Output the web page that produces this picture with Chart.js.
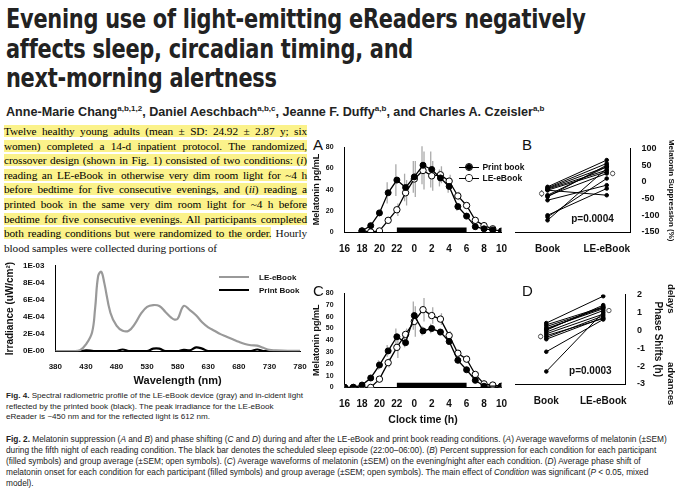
<!DOCTYPE html>
<html><head><meta charset="utf-8">
<script src="https://cdn.jsdelivr.net/npm/chart.js@4"></script>
<style>
body{margin:0;width:680px;height:497px;background:#fff;position:relative;overflow:hidden;font-family:"Liberation Sans",Arial,sans-serif;color:#111}
.abs{position:absolute}
#title{left:6px;top:4px;font-family:"DejaVu Sans Condensed","DejaVu Sans",sans-serif;font-weight:bold;font-size:27px;line-height:29.5px;color:#222;white-space:nowrap;transform:scaleX(0.86);transform-origin:left top;letter-spacing:-0.3px}
#auth{left:6px;top:104px;font-weight:bold;font-size:12.6px;color:#222;white-space:nowrap}
#auth sup{font-size:8px}
#abs{left:4px;top:124px;width:303px;font-family:"Liberation Serif",serif;font-size:11.3px;line-height:14.6px;text-align:justify;letter-spacing:-0.1px}
#abs mark{background:#fbf28a}
.cap{font-size:8.1px;line-height:10.5px;color:#222}
.lab{font-size:15px;font-family:"Liberation Sans",sans-serif}
.leg{font-size:8.5px;font-weight:bold;white-space:nowrap;line-height:11px}
.dot{display:inline-block;width:6px;height:6px;border:1px solid #000;border-radius:50%;vertical-align:-1px;position:relative}
.dot:before{content:"";position:absolute;left:-7px;top:2.5px;width:20px;height:1.3px;background:#000}
.dot i{position:absolute;left:0;top:0;width:6px;height:6px;border-radius:50%}
.sw{display:inline-block;width:30px;height:2px;vertical-align:2px;margin-right:10px}
</style></head><body>
<div id="title" class="abs">Evening use of light-emitting eReaders negatively<br>affects sleep, circadian timing, and<br>next-morning alertness</div>
<div id="auth" class="abs">Anne-Marie Chang<sup>a,b,1,2</sup>, Daniel Aeschbach<sup>a,b,c</sup>, Jeanne F. Duffy<sup>a,b</sup>, and Charles A. Czeisler<sup>a,b</sup></div>
<div id="abs" class="abs"><mark>Twelve healthy young adults (mean ± SD: 24.92 ± 2.87 y; six women) completed a 14-d inpatient protocol. The randomized, crossover design (shown in Fig. 1) consisted of two conditions: (<i>i</i>) reading an LE-eBook in otherwise very dim room light for ~4 h before bedtime for five consecutive evenings, and (<i>ii</i>) reading a printed book in the same very dim room light for ~4 h before bedtime for five consecutive evenings. All participants completed both reading conditions but were randomized to the order.</mark> Hourly blood samples were collected during portions of</div>

<div class="abs" style="left:0;top:258px;width:310px;height:130px"><canvas id="spec"></canvas></div>
<div class="abs leg" style="left:219px;top:271px;font-size:8px;line-height:13px"><span class="sw" style="background:#999"></span>LE-eBook<br><span class="sw" style="background:#000"></span>Print Book</div>
<div class="abs cap" style="left:6px;top:391px;width:300px"><b>Fig. 4.</b> Spectral radiometric profile of the LE-eBook device (gray) and in-cident light reflected by the printed book (black). The peak irradiance for the LE-eBook eReader is ~450 nm and for the reflected light is 612 nm.</div>

<div class="abs lab" style="left:313px;top:136px">A</div>
<div class="abs lab" style="left:522px;top:136px">B</div>
<div class="abs lab" style="left:313px;top:282px">C</div>
<div class="abs lab" style="left:522px;top:282px">D</div>
<div class="abs" style="left:310px;top:140px;width:200px;height:118px"><canvas id="cA"></canvas></div>
<div class="abs leg" style="left:465px;top:162px"><span class="dot"><i style="background:#000"></i></span>&nbsp;&nbsp;&nbsp;&nbsp;Print book<br><span class="dot"><i style="background:#fff"></i></span>&nbsp;&nbsp;&nbsp;&nbsp;LE-eBook</div>
<div class="abs" style="left:510px;top:140px;width:170px;height:118px"><canvas id="cB"></canvas></div>
<div class="abs" style="left:310px;top:286px;width:200px;height:140px"><canvas id="cC"></canvas></div>
<div class="abs" style="left:510px;top:286px;width:158px;height:124px"><canvas id="cD"></canvas></div>
<div class="abs" style="left:666px;top:284px;font-size:9.5px;font-weight:bold;writing-mode:vertical-rl">delays</div>
<div class="abs" style="left:666px;top:362px;font-size:9.5px;font-weight:bold;writing-mode:vertical-rl">advances</div>

<div class="abs cap" style="left:6px;top:434px;width:670px;font-size:8.3px;line-height:11px"><b>Fig. 2.</b> Melatonin suppression (<i>A</i> and <i>B</i>) and phase shifting (<i>C</i> and <i>D</i>) during and after the LE-eBook and print book reading conditions. (<i>A</i>) Average waveforms of melatonin (±SEM) during the fifth night of each reading condition. The black bar denotes the scheduled sleep episode (22:00–06:00). (<i>B</i>) Percent suppression for each condition for each participant (filled symbols) and group average (±SEM; open symbols). (<i>C</i>) Average waveforms of melatonin (±SEM) on the evening/night after each condition. (<i>D</i>) Average phase shift of melatonin onset for each condition for each participant (filled symbols) and group average (±SEM; open symbols). The main effect of <i>Condition</i> was significant (<i>P</i> &lt; 0.05, mixed model).</div>
<script>
// spectrum (Fig 4)
const wl = [380,390,400,410,420,430,440,445,450,455,460,470,480,490,500,510,520,530,540,550,560,570,575,580,590,600,610,620,630,640,650,660,670,680,690,700,710,720,730,740,760,780];
const leSpec = [0,0,0,0,0.1,0.8,2.2,5,8.8,9.3,8,4.5,3,2.4,2.4,3.2,4.4,5.2,5.4,5.3,4.6,3.9,3.7,3.8,5.3,4.8,4.2,3.4,2.8,2.4,2,1.7,1.4,1.1,0.85,0.7,0.65,0.4,0.15,0.1,0.05,0.05];
const printSpec = [0,0,0,0,0,0.1,0.05,0,0,0,0,0,0,0.2,0,0,0,0,0.3,0.3,0,0,0,0,0.15,0.1,0.45,0.3,0,0,0,0,0,0,0,0,0.2,0,0,0,0,0];
const specTicks = ['0E-00','2E-04','4E-04','6E-04','8E-04','1E-03'];

// melatonin waveforms, hours after midnight of day 0 (24 = 0:00)
const hrsA = [18,19,20,21,22,23,24,25,26,27,28,29,30,31,32,33,34];
const printA = [1,6,18,37,49,42,52,63,59,51,43,24,15,5,3,2,1];
const printAErr = [0,1,3,10,15,13,15,18,17,8,6,4,3,1,1,0,0];
const leA = [1,0,1,11,21,37,50,58,53,54,48,34,25,11,6,3,null];
const leAErr = [0,0,1,3,6,12,17,18,14,8,6,4,3,2,1,0,0];
const hrsC = [16,17,18,19,20,21,22,23,24,25,26,27,28,29,30,31,32,33,34];
const printC = [0,0,2,8,19,31,43,38,61,48,50,47,39,23,15,6,1,null,1];
const printCErr = [0,0,1,2,4,5,7,4,12,4,4,3,3,2,2,1,0,0,0];
const leC = [0,0,0,0,7,21,34,45,56,66,61,58,44,29,24,11,3,2,1];
const leCErr = [0,0,0,0,2,4,9,5,13,10,7,5,4,3,3,2,1,0,0];
const sleepBar = [22,30];

// individual participants
const supBook = [-15,-18,-20,-22,-25,-40,-45,-55,-100,-105,-115,-25,-42];
const supLE = [65,55,45,35,30,45,50,-10,-20,10,40,-40,25];
const supMean = [-35,25], supErr = [10,8];
const phBook = [0.4,0.3,0.1,0,-0.1,-0.2,-0.4,-0.5,-1.2,-2.3,0.2,-0.3,0.05];
const phLE = [1.9,1.3,1.2,1.4,1.1,0.9,0.8,0.7,0.6,1.0,1.25,0.65,1.3];
const phMean = [-0.35,1.1], phErr = [0.15,0.1];
const conds = ['Book','LE-eBook'];

Chart.defaults.font.family = 'Liberation Sans, Arial, sans-serif';
Chart.defaults.font.weight = 'bold';
Chart.defaults.color = '#111';
Chart.defaults.animation = false;

const errPlugin = {
  id: 'err',
  beforeDatasetsDraw(chart) {
    const c = chart.ctx, xs = chart.scales.x, ys = chart.scales.y;
    chart.data.datasets.forEach(ds => {
      if (!ds.err) return;
      c.save(); c.strokeStyle = ds.errColor || '#aaa'; c.lineWidth = 1.3;
      ds.data.forEach((p, i) => {
        if (p.y == null || !ds.err[i]) return;
        const x = xs.getPixelForValue(p.x) + (ds.errDx || 0);
        c.beginPath(); c.moveTo(x, ys.getPixelForValue(p.y - ds.err[i])); c.lineTo(x, ys.getPixelForValue(p.y + ds.err[i])); c.stroke();
      });
      c.restore();
    });
  }
};

function pts(xs, ys) { return xs.map((x, i) => ({x: x, y: ys[i]})); }

// spectrum
new Chart(document.getElementById('spec'), {
  type: 'line',
  data: {datasets: [
    {label: 'LE-eBook', data: pts(wl, leSpec), borderColor: '#999', borderWidth: 2.2, pointRadius: 0, tension: 0.4},
    {label: 'Print Book', data: pts(wl, printSpec), borderColor: '#000', borderWidth: 2.2, pointRadius: 0, tension: 0.4}
  ]},
  options: {responsive: true, maintainAspectRatio: false,
    layout: {padding: {right: 10, top: 6}},
    plugins: {legend: {display: false}, tooltip: {enabled: false}},
    scales: {
      x: {type: 'linear', min: 380, max: 780, grid: {display: false}, border: {color: '#000'},
        ticks: {stepSize: 50, font: {size: 8}}, title: {display: true, text: 'Wavelength (nm)', font: {size: 11}, padding: 0}},
      y: {min: 0, max: 10, grid: {display: false}, border: {color: '#000'},
        ticks: {stepSize: 2, font: {size: 8}, callback: v => specTicks[v / 2]},
        title: {display: true, text: 'Irradiance (uW/cm²)', font: {size: 10}}}
    }}
});

function waveChart(id, hrs, pr, prE, le, leE, showTitle) {
  new Chart(document.getElementById(id), {
    type: 'line',
    data: {datasets: [
      {label: 'Print book', data: pts(hrs, pr), err: prE, errDx: -1, borderColor: '#000', backgroundColor: '#000', borderWidth: 1.3, pointRadius: 3, pointBorderWidth: 1},
      {label: 'LE-eBook', data: pts(hrs, le), err: leE, errDx: 1, borderColor: '#000', backgroundColor: '#fff', borderWidth: 1.3, pointRadius: 3.2, pointBorderWidth: 1},
      {label: 'sleep', data: pts(sleepBar, [1.5, 1.5]), borderColor: '#000', borderWidth: 6, pointRadius: 0, borderCapStyle: 'butt'}
    ]},
    options: {responsive: true, maintainAspectRatio: false, spanGaps: true,
      layout: {padding: {top: 4, right: 4}},
      plugins: {legend: {display: false}, tooltip: {enabled: false}},
      scales: {
        x: {type: 'linear', min: 16, max: 34, grid: {display: false}, border: {color: '#000'},
          ticks: {stepSize: 2, font: {size: 10}, callback: v => v % 24}, title: {display: showTitle, text: 'Clock time (h)', font: {size: 10.5}, padding: 0}},
        y: {min: 0, max: 80, grid: {display: false}, border: {color: '#000'},
          ticks: {stepSize: 10, font: {size: 7}}, title: {display: true, text: 'Melatonin pg/mL', font: {size: 9}, padding: 1}}
      }},
    plugins: [errPlugin]
  });
}
waveChart('cA', hrsA, printA, printAErr, leA, leAErr, false);
waveChart('cC', hrsC, printC, printCErr, leC, leCErr, true);

function pairChart(id, book, le, mean, err, min, max, step, title, tsize, ptxt) {
  const ds = book.map((b, i) => ({data: [{x: 0, y: b}, {x: 1, y: le[i]}], borderColor: '#000', backgroundColor: '#000', borderWidth: 1, pointRadius: 1.8}));
  ds.push({data: [{x: -0.1, y: mean[0]}], err: [err[0]], errColor: '#555', showLine: false, borderColor: '#555', backgroundColor: '#fff', pointRadius: 2.2});
  ds.push({data: [{x: 1.1, y: mean[1]}], err: [err[1]], errColor: '#555', showLine: false, borderColor: '#555', backgroundColor: '#fff', pointRadius: 2.2});
  new Chart(document.getElementById(id), {
    type: 'line',
    data: {datasets: ds},
    options: {responsive: true, maintainAspectRatio: false,
      layout: {padding: {top: 4}},
      plugins: {legend: {display: false}, tooltip: {enabled: false}},
      scales: {
        x: {type: 'linear', min: -0.55, max: 1.4, grid: {display: false}, border: {color: '#000'},
          afterBuildTicks: s => { s.ticks = [{value: 0}, {value: 1}]; },
          ticks: {font: {size: 10}, callback: v => conds[v]}},
        y: {position: 'right', min: min, max: max, grid: {display: false}, border: {color: '#000'},
          ticks: {stepSize: step, font: {size: 9}}, title: {display: true, text: title, font: {size: tsize}}}
      }},
    plugins: [errPlugin, {id: 'ptxt', afterDraw(c) {
      const x = c.ctx; x.save(); x.font = 'bold 10px Liberation Sans'; x.fillStyle = '#111';
      x.fillText(ptxt, c.scales.x.getPixelForValue(0.4), c.chartArea.bottom - 10); x.restore(); }}]
  });
}
pairChart('cB', supBook, supLE, supMean, supErr, -150, 100, 50, 'Melatonin Suppression (%)', 8, 'p=0.0004');
pairChart('cD', phBook, phLE, phMean, phErr, -3, 2, 1, 'Phase Shifts (h)', 10, 'p=0.0003');
</script>
</body></html>
